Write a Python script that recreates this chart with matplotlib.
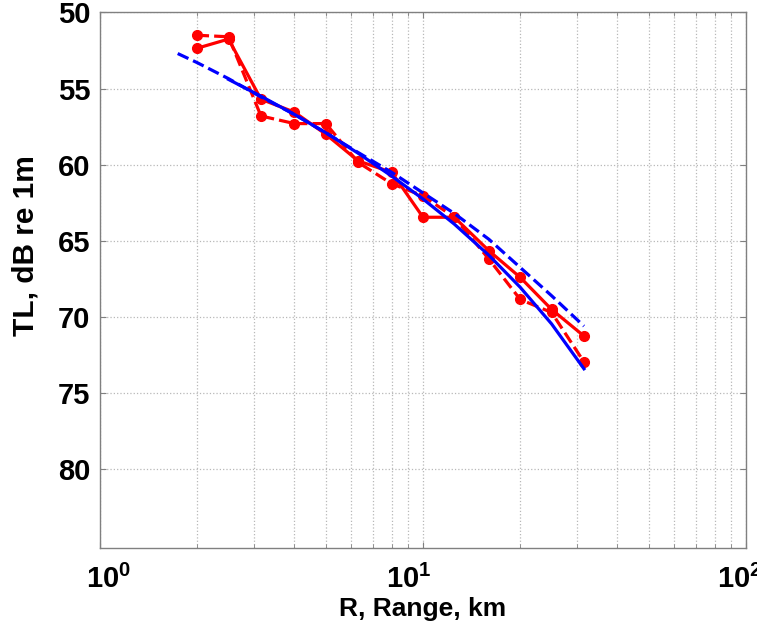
import math
import matplotlib
matplotlib.use("Agg")
import matplotlib.pyplot as plt
import matplotlib.transforms as mtransforms
from matplotlib.ticker import LogLocator, FuncFormatter, NullFormatter

plt.rcParams['font.family'] = ['Liberation Sans', 'DejaVu Sans']
plt.rcParams['font.weight'] = 'bold'
plt.rcParams['mathtext.fontset'] = 'custom'
plt.rcParams['mathtext.rm'] = 'Liberation Sans:bold'
plt.rcParams['mathtext.it'] = 'Liberation Sans:bold'
plt.rcParams['mathtext.bf'] = 'Liberation Sans:bold'
plt.rcParams['mathtext.default'] = 'bf'

# measured transmission loss, two runs (km, dB)
range_meas = [2, 2.5, 3.15, 4, 5, 6.3, 8, 10, 12.5, 16, 20, 25, 31.5]
tl_run1 = [52.35, 51.75, 55.7, 56.55, 58.0, 59.75, 60.5, 63.45, 63.45, 65.65, 67.4, 69.5, 71.25]
tl_run2 = [51.5, 51.6, 56.8, 57.3, 57.3, 59.85, 61.25, 62.05, 63.45, 66.2, 68.85, 69.7, 72.95]

# model curves
range_model = [2.5, 3.15, 4, 5, 6.3, 8, 10, 12.5, 16, 20, 25, 31.5]
tl_model = [54.4, 55.5, 56.7, 57.9, 59.25, 60.75, 62.25, 63.9, 65.95, 68.05, 70.45, 73.4]
range_model2 = [1.74, 2, 2.5, 3.15, 4, 5, 6.3, 8, 10, 12.5, 16, 20, 25, 31.5]
tl_model2 = [52.7, 53.3, 54.35, 55.55, 56.7, 57.9, 59.2, 60.5, 61.85, 63.2, 64.9, 66.75, 68.6, 70.6]

fig = plt.figure(figsize=(7.57, 6.27), dpi=100)
ax = fig.add_axes([0.1321, 0.1252, 0.8534, 0.8550])

ax.plot(range_meas, tl_run1, '-o', color='#ff0000', lw=2.3, ms=7)
ax.plot(range_meas, tl_run2, '--o', color='#ff0000', lw=2.3, ms=7)
ax.plot(range_model, tl_model, '-', color='#0000ff', lw=2.3)
ax.plot(range_model2, tl_model2, '--', color='#0000ff', lw=2.3)

ax.set_xscale('log')
ax.set_xlim(1, 100)
ax.set_ylim(85.2, 50)
ax.set_yticks([50, 55, 60, 65, 70, 75, 80])

ax.xaxis.set_major_locator(LogLocator(base=10))
ax.xaxis.set_minor_locator(LogLocator(base=10, subs=range(2, 10)))
ax.xaxis.set_minor_formatter(NullFormatter())
ax.xaxis.set_major_formatter(FuncFormatter(lambda v, p: r'$10^{%d}$' % round(math.log10(v))))

ax.grid(True, which='major', color='#b8b8b8', ls=':', lw=0.9)
ax.grid(True, which='minor', axis='x', color='#b8b8b8', ls=':', lw=0.9)

for s in ax.spines.values():
    s.set_color('#808080')
    s.set_linewidth(1.0)

ax.tick_params(which='both', direction='in', top=True, right=True, colors='#808080',
               labelcolor='black', labelsize=21)
ax.tick_params(which='major', length=4)
ax.tick_params(which='minor', length=3)
ax.tick_params(axis='x', pad=12)
ax.tick_params(axis='y', pad=7)

# nudge each decade label sideways (pixels)
label_shift = {0: 9, 1: -14, 2: -6}
fig.canvas.draw()
for tick in ax.xaxis.get_major_ticks():
    v = tick.get_loc()
    if not (1 <= v <= 100):
        continue
    dx = label_shift.get(round(math.log10(v)), 0)
    lab = tick.label1
    lab.set_transform(lab.get_transform() + mtransforms.ScaledTranslation(dx / 100, 0, fig.dpi_scale_trans))

ax.set_xlabel('R, Range, km', fontsize=19, fontweight='bold', labelpad=2)
ax.set_ylabel('TL, dB re 1m', fontsize=21.5, fontweight='bold')
ax.yaxis.set_label_coords(-0.093, 0.566)

fig.savefig('out.png', dpi=100)
